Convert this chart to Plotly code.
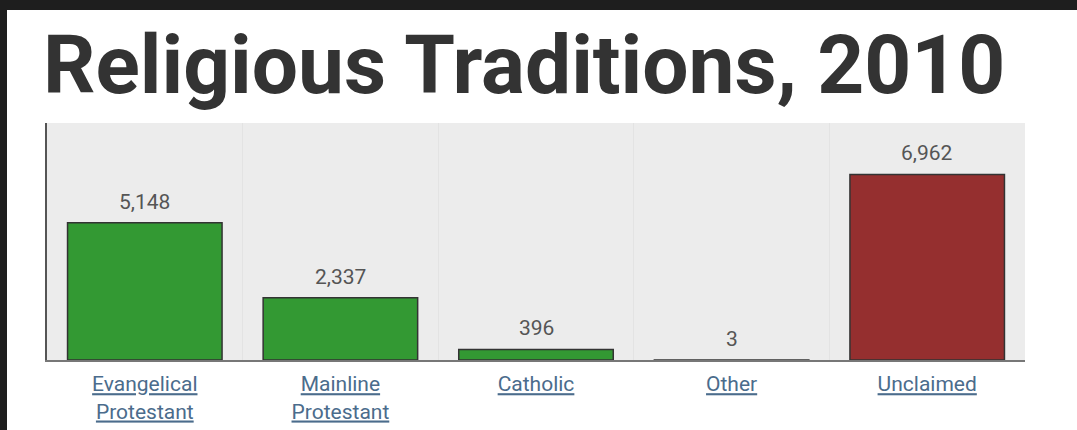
import plotly.graph_objects as go

categories = ["Evangelical<br>Protestant", "Mainline<br>Protestant", "Catholic", "Other", "Unclaimed"]
tick_labels = ["<u>Evangelical</u><br><u>Protestant</u>", "<u>Mainline</u><br><u>Protestant</u>",
               "<u>Catholic</u>", "<u>Other</u>", "<u>Unclaimed</u>"]
values = [5148, 2337, 396, 3, 6962]
value_labels = ["5,148", "2,337", "396", "3", "6,962"]
bar_colors = ["#339933", "#339933", "#339933", "#339933", "#952f2f"]
title_text = "Religious Traditions, 2010"

W, H = 1077, 430
ML, MR, MT, MB = 47, 52, 123, 70
PW, PH = W - ML - MR, H - MT - MB

fig = go.Figure()
fig.add_trace(go.Bar(
    x=categories, y=values,
    marker=dict(color=bar_colors, line=dict(color="#333333", width=1.5)),
    hoverinfo="skip",
))

for c, v, t in zip(categories, values, value_labels):
    fig.add_annotation(x=c, y=v, text=t, showarrow=False, yanchor="middle", yshift=21,
                       font=dict(family="Roboto", size=21, color="#555555"))

dark = "#1e1e1e"
fig.add_shape(type="rect", xref="paper", yref="paper", layer="above",
              x0=-ML / PW, x1=1 + MR / PW,
              y0=1 + (MT - 10) / PH, y1=1 + MT / PH,
              fillcolor=dark, line=dict(width=0))
fig.add_shape(type="rect", xref="paper", yref="paper", layer="above",
              x0=-ML / PW, x1=-(ML - 7) / PW,
              y0=-MB / PH, y1=1 + MT / PH,
              fillcolor=dark, line=dict(width=0))

fig.update_layout(
    width=W, height=H,
    margin=dict(l=ML, r=MR, t=MT, b=MB, pad=0, autoexpand=False),
    paper_bgcolor="white", plot_bgcolor="#ececec",
    bargap=0.21, showlegend=False,
    title=dict(text=title_text, x=43 / W, xref="container", xanchor="left",
               y=1 - 64 / H, yref="container", yanchor="middle",
               font=dict(family="Roboto", size=82, color="#333333", weight="bold")),
    xaxis=dict(tickvals=categories, ticktext=tick_labels, tickson="boundaries",
               showgrid=True, gridcolor="#e3e3e3", gridwidth=1, automargin=False,
               ticks="", ticklabelstandoff=4,
               tickfont=dict(family="Roboto", size=21, color="#4b6c8c"),
               showline=True, linecolor="#777777", linewidth=2, fixedrange=True),
    yaxis=dict(range=[0, 8890], showgrid=False, showticklabels=False, zeroline=False,
               automargin=False,
               showline=True, linecolor="#555555", linewidth=2, fixedrange=True),
)

fig.write_html("out.html", config={"displayModeBar": False},
               post_script=("var s=document.documentElement.style;s.margin='0';s.overflow='hidden';"
                            "s.background='white';var b=document.body.style;b.margin='0';"
                            "b.overflow='hidden';b.background='white';"))
